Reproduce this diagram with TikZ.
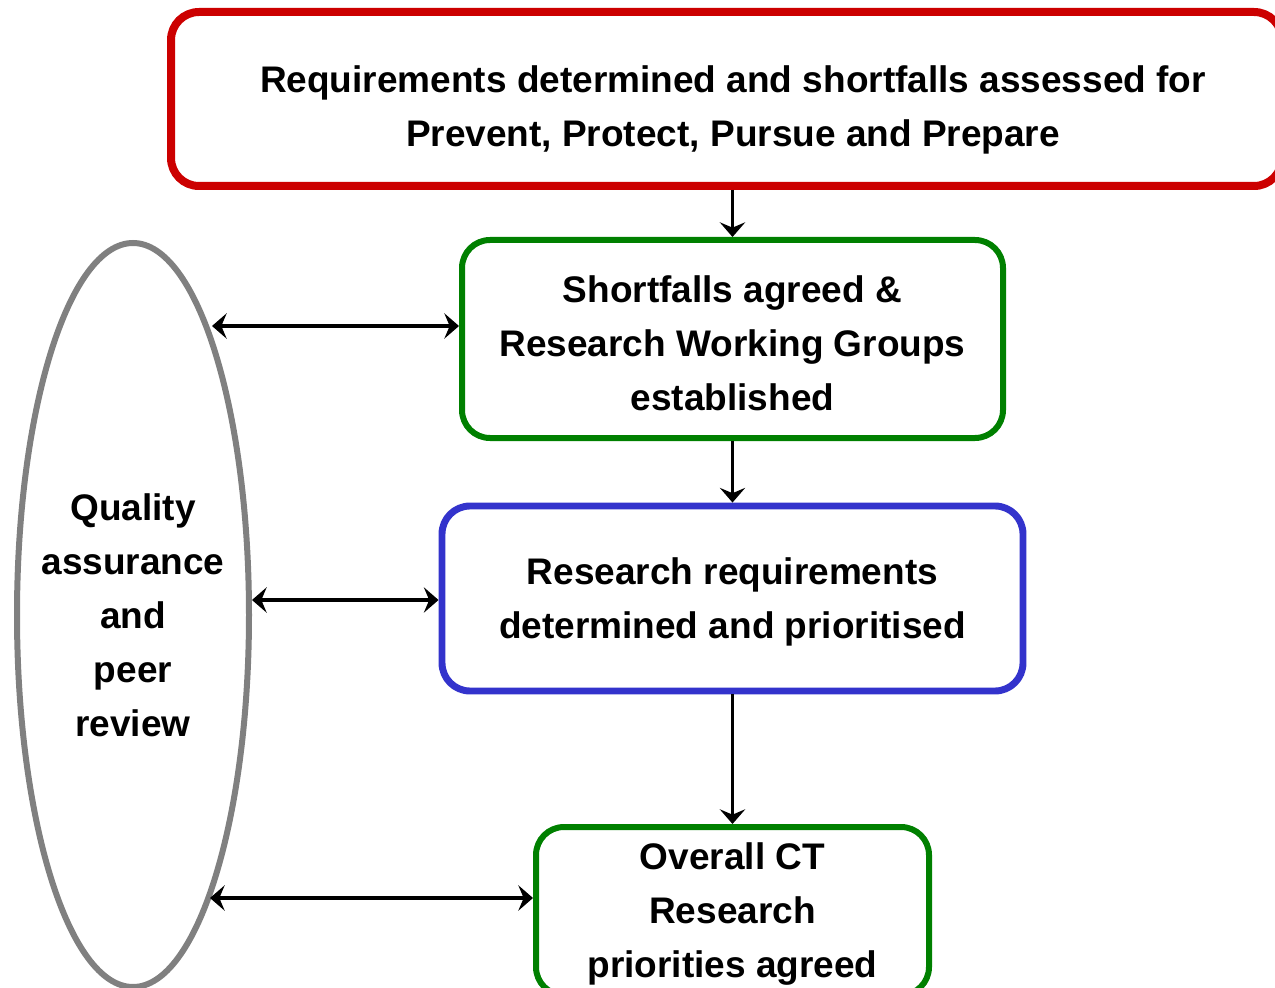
\documentclass[tikz,border=0pt]{standalone}
\usepackage{fontspec}
\setmainfont{Liberation Sans}
\usetikzlibrary{arrows.meta,shapes.geometric}
\definecolor{boxred}{RGB}{204,0,0}
\definecolor{boxgreen}{RGB}{0,128,0}
\definecolor{boxblue}{RGB}{51,51,204}
\definecolor{ellgray}{RGB}{128,128,128}
\newcommand\boxlines[2]{\raisebox{-#1}[\height][\depth]{\begin{tabular}{@{}c@{}}#2\end{tabular}}}
\tikzset{
  lbl/.style={font=\fontsize{27.75}{40.5}\selectfont\bfseries, align=center, text=black, inner sep=0pt},
  stagebox/.style={lbl, draw, rounded corners=21pt},
  conn/.style={line width=2.6pt, draw=black, -{Stealth[length=11pt,width=19pt,inset=4pt]}},
  dconn/.style={line width=2.6pt, draw=black, {Stealth[length=11pt,width=19pt,inset=4pt]}-{Stealth[length=11pt,width=19pt,inset=4pt]}},
}
\begin{document}
\begin{tikzpicture}[x=0.75pt,y=-0.75pt]
\clip (0,0) rectangle (1275,988);
\fill[white] (0,0) rectangle (1275,988);

\node[stagebox, draw=boxred, line width=6pt, minimum width=1111*0.75pt, minimum height=174*0.75pt] (req) at (726.5,99)
  {\hspace*{9.75pt}\boxlines{7pt}{Requirements determined and shortfalls assessed for\\Prevent, Protect, Pursue and Prepare}};

\node[stagebox, draw=boxgreen, line width=4.5pt, minimum width=541*0.75pt, minimum height=198*0.75pt] (short) at (732.5,339)
  {\boxlines{5pt}{Shortfalls agreed \&\\Research Working Groups\\established}};

\node[stagebox, draw=boxblue, line width=5.2pt, minimum width=581*0.75pt, minimum height=185*0.75pt] (resreq) at (732.5,598.5)
  {\boxlines{1.5pt}{Research requirements\\determined and prioritised}};

\node[stagebox, draw=boxgreen, line width=4.5pt, minimum width=393*0.75pt, minimum height=168*0.75pt] (prio) at (732.5,911)
  {\boxlines{1.5pt}{Overall CT\\Research\\priorities agreed}};

\node[ellipse, draw=ellgray, line width=4.5pt, minimum width=232*0.75pt, minimum height=744*0.75pt, inner sep=0pt] (qa) at (133,615) {};
\node[lbl] (qatext) at (qa.center)
  {\boxlines{2pt}{Quality\\assurance\\and\\peer\\review}};

\draw[conn] (short.north |- req.south) -- (short.north);
\draw[conn] (short.south) -- (resreq.north);
\draw[conn] (resreq.south) -- (prio.north);

\coordinate (qa1) at (212,326);
\coordinate (qa2) at (252,600);
\coordinate (qa3) at (210,898);
\draw[dconn] (qa1) -- (qa1 -| short.west);
\draw[dconn] (qa2) -- (qa2 -| resreq.west);
\draw[dconn] (qa3) -- (qa3 -| prio.west);
\end{tikzpicture}
\end{document}
